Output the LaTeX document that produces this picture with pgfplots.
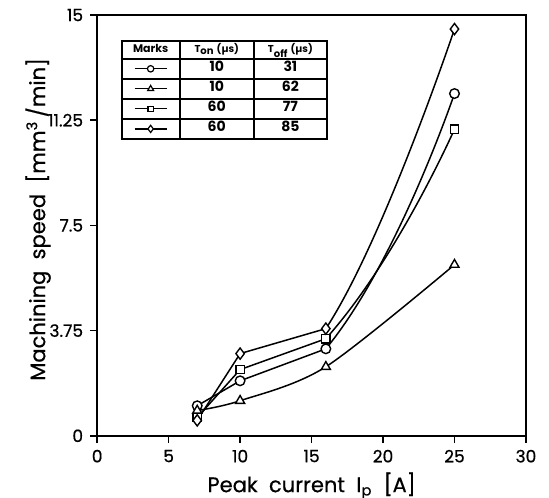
\documentclass[border=0pt]{standalone}
\usepackage{fontspec}
\setmainfont{Poppins}
\newfontfamily\medfont{Poppins}[FakeBold=0.6]
\usepackage{array}
\usepackage{pgfplots}
\pgfplotsset{compat=1.18}
\newcommand\mk[2]{\tikz[baseline={(0,-1.5pt)}]{\draw[line width=0.6pt](-8pt,0)--(8pt,0);\pgfsetlinewidth{0.6pt}\pgfsetfillcolor{white}\pgfsetplotmarksize{#2}\pgfuseplotmark{#1}}}
\newcommand\R{\rule[-3pt]{0pt}{9pt}}
\newcommand\RH{\rule[-2.5pt]{0pt}{7.5pt}}
\begin{document}
\begin{tikzpicture}
\useasboundingbox (-48.5pt,-31pt) rectangle (225.5pt,217.5pt);
\begin{axis}[
  at={(0,0)}, anchor=south west,
  scale only axis, width=214pt, height=210pt,
  xmin=0, xmax=30, ymin=0, ymax=15,
  xtick={0,5,10,15,20,25,30},
  ytick={0,3.75,7.5,11.25,15},
  yticklabels={0,3.75,7.5,11.25,15},
  xtick pos=left, ytick pos=left,
  tick align=outside, major tick length=3.5pt,
  axis line style={line width=1pt},
  tick style={line width=0.8pt, black},
  /pgf/number format/assume math mode=true,
  ticklabel style={font=\medfont\fontsize{8.5}{10}\selectfont},
  label style={font=\medfont\fontsize{10.5}{12}\selectfont},
  xlabel={Peak\ \ current\ \ I\textsubscript{p}\ \ [A]},
  ylabel={Machining\ \ speed\ \ [mm\textsuperscript{3}\,/min]},
  xlabel style={at={(axis description cs:0.5,0)}, anchor=center, yshift=-25pt},
  ylabel style={at={([xshift=-29.5pt,yshift=3pt]axis description cs:0,0.5)}, anchor=center},
  every axis plot/.append style={black, line width=0.75pt, mark options={fill=white, solid, line width=0.7pt}},
]
% straight parts (7 -> 10 -> 16)
\addplot[sharp plot, no marks] coordinates {(7,1.07) (10,1.96) (16,3.1)};
\addplot[sharp plot, no marks] coordinates {(7,0.65) (10,2.36) (16,3.46)};
\addplot[sharp plot, no marks] coordinates {(7,0.55) (10,2.93) (16,3.82)};
% triangle series: one smooth curve
\addplot[smooth, tension=0.5, no marks] coordinates {(7,0.9) (10,1.25) (16,2.46) (25,6.1)};
% curved parts (16 -> 25)
\begin{scope}
\clip (axis cs:16,-1) rectangle (axis cs:31,16);
\addplot[smooth, tension=1, no marks] coordinates {(7,1.07) (16,3.1) (25,12.2)};
\addplot[smooth, tension=1, no marks] coordinates {(7,0.65) (16,3.46) (25,10.93)};
\addplot[smooth, tension=0.8, no marks] coordinates {(7,0.55) (16,3.82) (25,14.5)};
\end{scope}
% marks
\addplot[only marks, mark=*, mark size=2.4pt] coordinates {(7,1.07) (10,1.96) (16,3.1) (25,12.2)};
\addplot[only marks, mark=triangle*, mark size=2.6pt] coordinates {(7,0.9) (10,1.25) (16,2.46) (25,6.1)};
\addplot[only marks, mark=square*, mark size=2.1pt] coordinates {(7,0.65) (10,2.36) (16,3.46) (25,10.93)};
\addplot[only marks, mark=diamond*, mark size=2.8pt] coordinates {(7,0.55) (10,2.93) (16,3.82) (25,14.5)};
\node[anchor=north west, inner sep=0pt, font=\fontsize{7}{8}\selectfont\bfseries] at (axis cs:1.61,14.14) {%
\setlength{\tabcolsep}{0pt}\setlength{\arrayrulewidth}{1pt}%
\begin{tabular}{|>{\centering\arraybackslash}p{28pt}|>{\centering\arraybackslash}p{36pt}|>{\centering\arraybackslash}p{35.5pt}|}
\hline
\RH{\fontsize{5.5}{6}\selectfont Marks} & {\fontsize{5}{6}\selectfont T\textsubscript{on} (µs)} & {\fontsize{5}{6}\selectfont T\textsubscript{off} (µs)}\\
\hline
\R\mk{*}{1.6pt} & 10 & 31\\
\hline
\R\mk{triangle*}{1.7pt} & 10 & 62\\
\hline
\R\mk{square*}{1.3pt} & 60 & 77\\
\hline
\R\mk{diamond*}{1.8pt} & 60 & 85\\
\hline
\end{tabular}};
\end{axis}
\end{tikzpicture}
\end{document}
